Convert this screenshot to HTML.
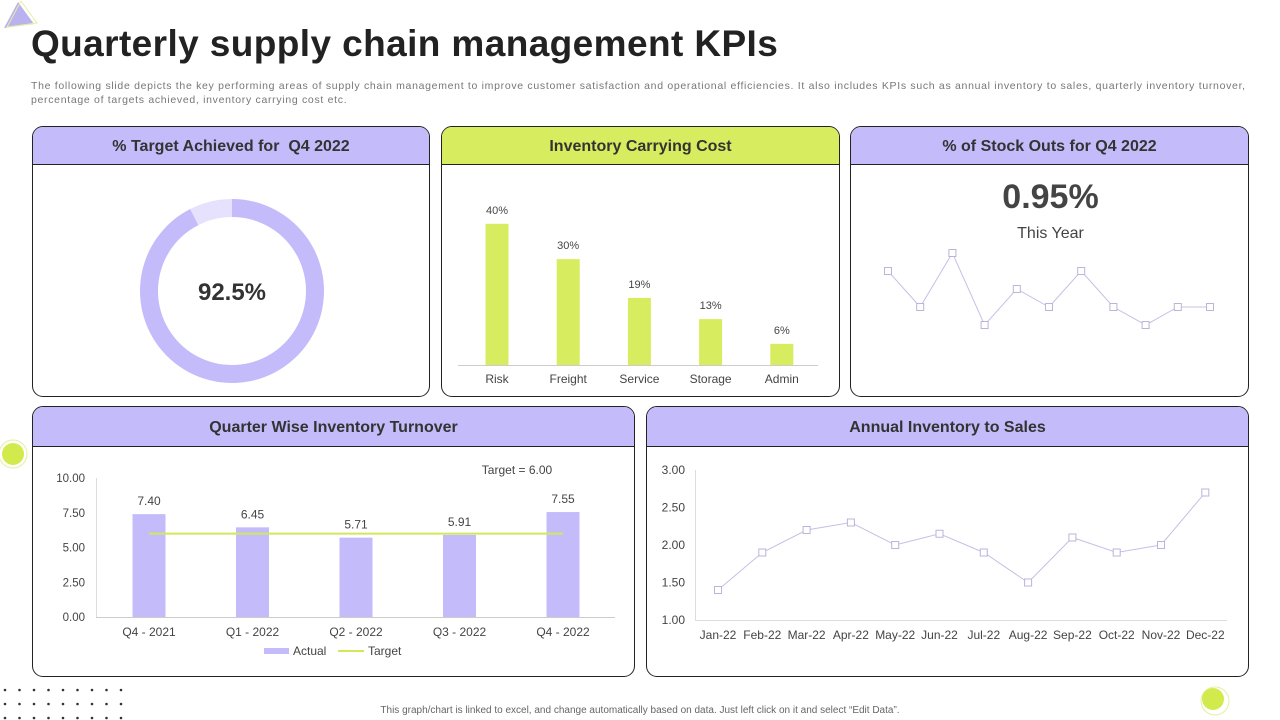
<!DOCTYPE html>
<html><head><meta charset="utf-8"><style>
body{margin:0;width:1280px;height:720px;background:#fff;font-family:"Liberation Sans",sans-serif;position:relative;overflow:hidden}
.abs{position:absolute}
.panel{position:absolute;border:1.5px solid #222;border-radius:11px;box-sizing:border-box;overflow:hidden;background:#fff}
.hdr{height:38px;border-bottom:1.5px solid #222;display:flex;align-items:center;justify-content:center;font-size:16px;font-weight:bold;color:#333;background:#c4bbfa;padding-top:2px;box-sizing:border-box}
.green{background:#d7ec5e}
svg text{font-family:"Liberation Sans",sans-serif}
</style></head><body>
<svg class="abs" style="left:0;top:0" width="40" height="30"><polygon points="4,28 18,2 34,24" fill="#b9b2ee"/><polygon points="4,28 18,2 34,24" fill="none" stroke="#e8ef9a" stroke-width="1" transform="translate(3,-1)"/></svg>
<div class="abs" style="left:31px;top:23px;font-size:37px;font-weight:bold;color:#222;letter-spacing:0.4px">Quarterly supply chain management KPIs</div>
<div class="abs" style="left:31px;top:79px;white-space:nowrap;font-size:10.5px;line-height:14px;color:#777;letter-spacing:0.69px">The following slide depicts the key performing areas of supply chain management to improve customer satisfaction and operational efficiencies. It also includes KPIs such as annual inventory to sales, quarterly inventory turnover,<br>percentage of targets achieved, inventory carrying cost etc.</div>

<div class="panel" style="left:32px;top:126px;width:398px;height:271px">
<div class="hdr">% Target Achieved for&nbsp; Q4 2022</div>
<svg id="donut" class="abs" style="left:0;top:0" width="398" height="271"></svg>
</div>

<div class="panel" style="left:441px;top:126px;width:399px;height:271px">
<div class="hdr green">Inventory Carrying Cost</div>
<svg id="cost" class="abs" style="left:0;top:0" width="399" height="271"></svg>
</div>

<div class="panel" style="left:850px;top:126px;width:399px;height:271px">
<div class="hdr">% of Stock Outs for Q4 2022</div>
<div class="abs" style="left:0;width:399px;top:51px;text-align:center;font-size:34px;font-weight:bold;color:#444">0.95%</div>
<div class="abs" style="left:0;width:399px;top:98px;text-align:center;font-size:16px;color:#444">This Year</div>
<svg id="stock" class="abs" style="left:0;top:0" width="399" height="271"></svg>
</div>

<div class="panel" style="left:32px;top:406px;width:603px;height:271px">
<div class="hdr" style="height:40px">Quarter Wise Inventory Turnover</div>
<svg id="turn" class="abs" style="left:0;top:0" width="603" height="271"></svg>
</div>

<div class="panel" style="left:646px;top:406px;width:603px;height:271px">
<div class="hdr" style="height:40px">Annual Inventory to Sales</div>
<svg id="sales" class="abs" style="left:0;top:0" width="603" height="271"></svg>
</div>

<svg class="abs" style="left:0;top:438px" width="30" height="34"><circle cx="13" cy="16" r="14" fill="none" stroke="#e4f0a0"/><circle cx="13" cy="16" r="11" fill="#d2ea4c"/></svg>
<svg class="abs" style="left:1198px;top:684px" width="34" height="34"><circle cx="17" cy="17" r="14" fill="none" stroke="#e4f0a0"/><circle cx="15" cy="15" r="11" fill="#d2ea4c"/></svg>
<svg id="dots" class="abs" style="left:0;top:685px" width="130" height="35"></svg>
<div class="abs" style="left:0;width:1280px;top:705px;text-align:center;font-size:10px;color:#666">This graph/chart is linked to excel, and change automatically based on data. Just left click on it and select “Edit Data”.</div>

<script>
const NS="http://www.w3.org/2000/svg";
function mk(p,t,a){const e=document.createElementNS(NS,t);for(const k in a)e.setAttribute(k,a[k]);p.appendChild(e);return e;}
function tx(p,x,y,s,size,anchor,fill,w){const e=mk(p,'text',{x:x,y:y,'font-size':size,'text-anchor':anchor||'middle',fill:fill||'#444'});if(w)e.setAttribute('font-weight',w);e.textContent=s;return e;}

// data
const targetPct=92.5;
const costCats=["Risk","Freight","Service","Storage","Admin"];
const costVals=[40,30,19,13,6];
const stockVals=[3,1,4,0,2,1,3,1,0,1,1];
const turnCats=["Q4 - 2021","Q1 - 2022","Q2 - 2022","Q3 - 2022","Q4 - 2022"];
const turnVals=[7.40,6.45,5.71,5.91,7.55];
const turnTarget=6.00;
const turnTicks=[0,2.5,5,7.5,10];
const salesCats=["Jan-22","Feb-22","Mar-22","Apr-22","May-22","Jun-22","Jul-22","Aug-22","Sep-22","Oct-22","Nov-22","Dec-22"];
const salesVals=[1.4,1.9,2.2,2.3,2.0,2.15,1.9,1.5,2.1,1.9,2.0,2.7];
const salesTicks=[1,1.5,2,2.5,3];

// dots
const dots=document.getElementById('dots');
for(let r=0;r<3;r++)for(let c=0;c<9;c++){const d=mk(dots,'circle',{cx:5+c*14.5,cy:5+r*14,r:1.3,fill:'#333'});

}

// donut
(function(){const s=document.getElementById('donut');const cx=199,cy=164,ro=92,ri=74;
function arc(a0,a1,fill,name){const p=(a)=>[cx+Math.sin(a)*ro,cy-Math.cos(a)*ro],q=(a)=>[cx+Math.sin(a)*ri,cy-Math.cos(a)*ri];
const la=(a1-a0)>Math.PI?1:0;const A=p(a0),B=p(a1),C=q(a1),D=q(a0);
const e=mk(s,'path',{d:`M${A}A${ro},${ro} 0 ${la} 1 ${B}L${C}A${ri},${ri} 0 ${la} 0 ${D}Z`,fill:fill});

}
const a=targetPct/100*2*Math.PI;
arc(0,a,'#c4bbfa','donut-achieved');arc(a,2*Math.PI-0.0001,'#e6e2fd','donut-remaining');
const t=tx(s,cx,cy+9,targetPct+'%',24,'middle','#333','bold');

})();

// cost bars
(function(){const s=document.getElementById('cost');const base=238,k=3.53,x0=55,step=71.2,bw=23;
mk(s,'line',{x1:16,x2:376,y1:base+0.5,y2:base+0.5,stroke:'#ccc'});
costVals.forEach((v,i)=>{const cx=x0+i*step;const h=v*k;
const b=mk(s,'rect',{x:cx-bw/2,y:base-h,width:bw,height:h,fill:'#d7ec5e'});


tx(s,cx,base-h-10,v+'%',11,'middle','#444');
tx(s,cx,base+18,costCats[i],12,'middle','#444');});})();

// stock sparkline
(function(){const s=document.getElementById('stock');const x0=37,step=32.2,yb=198,k=18;
const pts=stockVals.map((v,i)=>[x0+i*step,yb-v*k]);
mk(s,'polyline',{points:pts.map(p=>p.join(',')).join(' '),fill:'none',stroke:'#c4c0e6','stroke-width':1});
pts.forEach(p=>{const r=mk(s,'rect',{x:p[0]-3.5,y:p[1]-3.5,width:7,height:7,fill:'#fff',stroke:'#b9b5dc'});

});})();

// turnover
(function(){const s=document.getElementById('turn');const base=210,k=13.9,x0=116,step=103.5,bw=33;
const y=v=>base-v*k;
turnTicks.forEach(t=>tx(s,52,y(t)+4,t.toFixed(2),11.5,'end','#444'));
mk(s,'line',{x1:63,x2:582,y1:base+0.5,y2:base+0.5,stroke:'#ccc'});
mk(s,'line',{x1:63.5,x2:63.5,y1:y(10),y2:base,stroke:'#ddd'});
turnVals.forEach((v,i)=>{const cx=x0+i*step;
const b=mk(s,'rect',{x:cx-bw/2,y:y(v),width:bw,height:v*k,fill:'#c4bbfa'});


tx(s,cx,y(v)-9,v.toFixed(2),12,'middle','#444');
tx(s,cx,base+19,turnCats[i],12,'middle','#444');});
const tl=mk(s,'line',{x1:x0,x2:x0+4*step,y1:y(turnTarget),y2:y(turnTarget),stroke:'#d2e85a','stroke-width':2});


tx(s,484,67,'Target = '+turnTarget.toFixed(2),12,'middle','#444');
mk(s,'rect',{x:231,y:241,width:25,height:6,fill:'#c4bbfa'});tx(s,260,248,'Actual',12,'start','#444');
mk(s,'line',{x1:305,x2:331,y1:244,y2:244,stroke:'#d2e85a','stroke-width':2});tx(s,335,248,'Target',12,'start','#444');})();

// sales line
(function(){const s=document.getElementById('sales');const y0=213,k=75,x0=71,step=44.3;
const y=v=>y0-(v-1)*k;
salesTicks.forEach(t=>tx(s,38,y(t)+4,t.toFixed(2),12,'end','#444'));
mk(s,'line',{x1:48.5,x2:48.5,y1:y(3),y2:y0,stroke:'#ddd'});
mk(s,'line',{x1:48,x2:580,y1:y0+0.5,y2:y0+0.5,stroke:'#ddd'});
const pts=salesVals.map((v,i)=>[x0+i*step,y(v)]);
mk(s,'polyline',{points:pts.map(p=>p.join(',')).join(' '),fill:'none',stroke:'#c4c0e6','stroke-width':1});
pts.forEach((p,i)=>{const r=mk(s,'rect',{x:p[0]-3.5,y:p[1]-3.5,width:7,height:7,fill:'#fff',stroke:'#b9b5dc'});


tx(s,p[0],y0+19,salesCats[i],12,'middle','#444');});})();
</script>
</body></html>
